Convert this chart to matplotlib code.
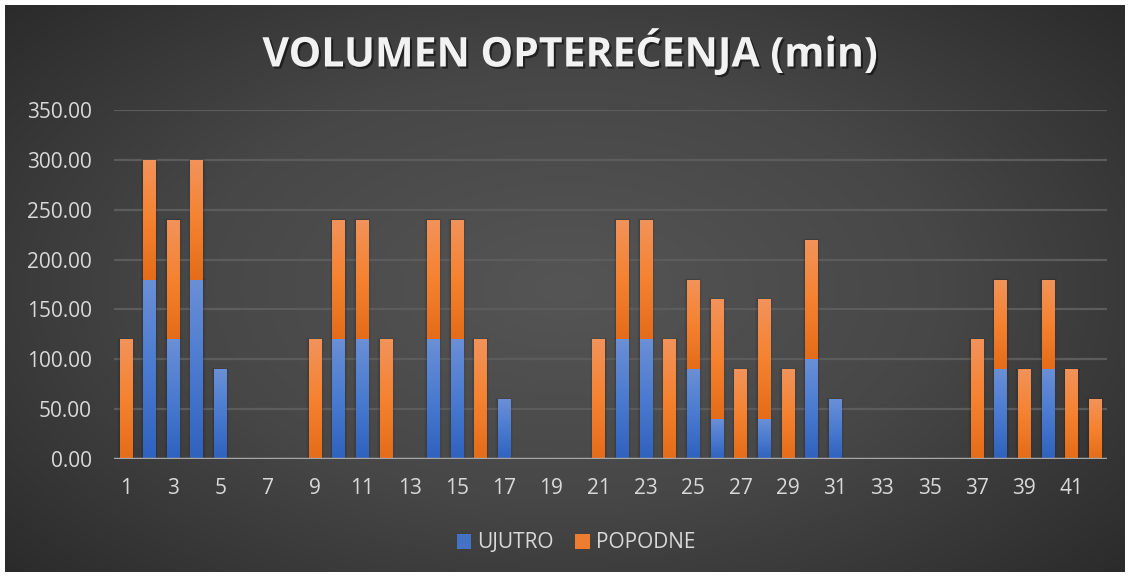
import numpy as np
import matplotlib
matplotlib.use("Agg")
import matplotlib.pyplot as plt
import matplotlib.patheffects as pe
from matplotlib.colors import LinearSegmentedColormap
from matplotlib.patches import Rectangle

categories = list(range(1, 43))
ujutro = [0, 180, 120, 180, 90, 0, 0, 0, 0, 120, 120, 0, 0, 120, 120, 0, 60, 0, 0, 0,
          0, 120, 120, 0, 90, 40, 0, 40, 0, 100, 60, 0, 0, 0, 0, 0, 0, 90, 0, 90, 0, 0]
popodne = [120, 120, 120, 120, 0, 0, 0, 0, 120, 120, 120, 120, 0, 120, 120, 120, 0, 0, 0, 0,
           120, 120, 120, 120, 90, 120, 90, 120, 90, 120, 0, 0, 0, 0, 0, 0, 120, 90, 90, 90, 90, 60]
yticks = [0, 50, 100, 150, 200, 250, 300, 350]
xticks = list(range(1, 43, 2))
title = "VOLUMEN OPTEREĆENJA (min)"

W, H = 1130, 577
fig = plt.figure(figsize=(W / 100, H / 100), dpi=100)
fig.patch.set_facecolor("white")

# background with radial gradient
bg = fig.add_axes([5 / W, 5 / H, 1 - 10 / W, 1 - 10 / H])
bg.set_axis_off()
yy, xx = np.mgrid[-1:1:300j, -1:1:600j]
r = np.sqrt(xx ** 2 + (yy * 0.9) ** 2)
bgcmap = LinearSegmentedColormap.from_list("bg", ["#555555", "#474747", "#2b2b2b"])
bg.imshow(r, cmap=bgcmap, vmin=0, vmax=1.35, aspect="auto", extent=[0, 1, 0, 1])
bg.set_xlim(0, 1)
bg.set_ylim(0, 1)

# plot area
left, right = 114, 1107
top, bottom = 110, 459
ax = fig.add_axes([left / W, 1 - bottom / H, (right - left) / W, (bottom - top) / H])
ax.patch.set_alpha(0)
ax.set_ylim(0, 350)
ax.set_xlim(0.5, 42.5)

for s in ax.spines.values():
    s.set_visible(False)
ax.axhline(0, color="#a6a6a6", lw=2.5, zorder=3)
for t in yticks[1:]:
    ax.axhline(t, color="#5c5c5c", lw=1.6, zorder=0)

blue_cmap = LinearSegmentedColormap.from_list("b", ["#6a8fd6", "#4a7bd0", "#2f62be"])
orange_cmap = LinearSegmentedColormap.from_list("o", ["#f2935a", "#f58230", "#e56c18"])
grad = np.linspace(0, 1, 100).reshape(-1, 1)

width = 0.53
x = np.array(categories)
b1 = ax.bar(x, ujutro, width, color="#4472C4", label="UJUTRO", zorder=2, lw=0)
b2 = ax.bar(x, popodne, width, bottom=ujutro, color="#ED7D31", label="POPODNE", zorder=2, lw=0)

def shade(bars, cmap):
    for p in bars:
        h = p.get_height()
        if h <= 0:
            continue
        x0, y0 = p.get_x(), p.get_y()
        w = p.get_width()
        for k, a in enumerate([0.08, 0.05, 0.03]):
            d = 0.06 * (k + 1)
            sh = Rectangle((x0 - d * 0.6, y0), w + 2 * d * 0.6, h + d * 8, color="black",
                           alpha=a, zorder=1, lw=0)
            ax.add_patch(sh)
        im = ax.imshow(grad, cmap=cmap, aspect="auto",
                       extent=[x0, x0 + w, y0, y0 + h], zorder=2.5, interpolation="bilinear")
        im.set_clip_path(p)

shade(b1, blue_cmap)
shade(b2, orange_cmap)
ax.set_xlim(0.5, 42.5)
ax.set_ylim(0, 350)

ax.set_yticks(yticks)
ax.set_yticklabels([f"{v:.2f}" for v in yticks])
ax.set_xticks(xticks)
ax.set_xticklabels([str(v) for v in xticks])
ax.tick_params(axis="both", length=0, colors="#d9d9d9", labelsize=15)
ax.tick_params(axis="x", pad=14)
ax.tick_params(axis="y", pad=16)
for lbl in ax.get_xticklabels() + ax.get_yticklabels():
    lbl.set_fontfamily("Open Sans")

fig.text(570 / W, 1 - 53 / H, title, ha="center", va="center", color="#f2f2f2",
         fontsize=29.5, fontweight="bold", fontfamily="Open Sans",
         path_effects=[pe.withSimplePatchShadow(offset=(1.5, -1.5), shadow_rgbFace="black", alpha=0.5)])

leg = fig.legend(handles=[b1, b2], labels=["UJUTRO", "POPODNE"], loc="center",
                 bbox_to_anchor=(576 / W, 1 - 543 / H), ncol=2, frameon=False,
                 prop={"family": "Open Sans", "size": 15}, handlelength=0.7,
                 handleheight=0.7, columnspacing=1.0, handletextpad=0.3)
for t in leg.get_texts():
    t.set_color("#d9d9d9")

fig.savefig("out.png", dpi=100, facecolor=fig.get_facecolor())
